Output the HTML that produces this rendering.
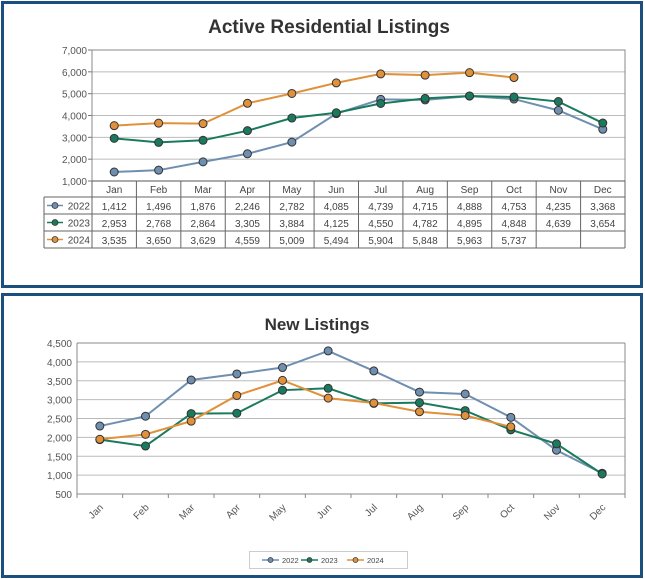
<!DOCTYPE html>
<html><head><meta charset="utf-8"><style>
html,body{margin:0;padding:0;background:#fff;}
svg{display:block;font-family:"Liberation Sans",sans-serif;}
</style></head><body>
<svg id="s" width="645" height="579" viewBox="0 0 645 579" xmlns="http://www.w3.org/2000/svg">
<rect x="0" y="0" width="645" height="579" fill="#fff"/>
<rect x="2.5" y="2.5" width="639" height="284" fill="none" stroke="#1b4f7e" stroke-width="3"/>
<rect x="2.5" y="294.5" width="639" height="282" fill="none" stroke="#1b4f7e" stroke-width="3"/>
<text x="329" y="33" text-anchor="middle" font-size="19" font-weight="bold" fill="#333">Active Residential Listings</text>
<text x="317" y="330" text-anchor="middle" font-size="17" font-weight="bold" fill="#333">New Listings</text>
<g id="g"></g>
</svg>
<script>
var g=document.getElementById('g'),NS='http://www.w3.org/2000/svg';
function el(t,a,txt){var e=document.createElementNS(NS,t);for(var k in a)e.setAttribute(k,a[k]);if(txt!=null)e.textContent=txt;g.appendChild(e);return e;}
var C=['#6f8fb0','#1a7a5e','#e0913a'];
var M=['Jan','Feb','Mar','Apr','May','Jun','Jul','Aug','Sep','Oct','Nov','Dec'];
// Top chart
var L=92,R=625,T=50,B=181;
var d1=[[1412,1496,1876,2246,2782,4085,4739,4715,4888,4753,4235,3368],[2953,2768,2864,3305,3884,4125,4550,4782,4895,4848,4639,3654],[3535,3650,3629,4559,5009,5494,5904,5848,5963,5737]];
function y1(v){return B-(v-1000)/6000*(B-T);}
var cw=(R-L)/12;
for(var i=1;i<=7;i++){var y=y1(i*1000);el('line',{x1:L,x2:R,y1:y,y2:y,stroke:'#bbb','stroke-width':1});el('line',{x1:L-4,x2:L,y1:y,y2:y,stroke:'#777'});el('text',{x:L-5,y:y+4,'text-anchor':'end','font-size':10,fill:'#555'},(i).toString()+',000');}
el('rect',{x:L,y:T,width:R-L,height:B-T,fill:'none',stroke:'#888'});
// table
var rows=[181,197,214,231,248];
el('line',{x1:L,x2:R,y1:181,y2:181,stroke:'#555'});
for(var r=1;r<5;r++)el('line',{x1:44,x2:R,y1:rows[r],y2:rows[r],stroke:'#666'});
el('line',{x1:44,x2:44,y1:197,y2:248,stroke:'#666'});
for(var c=0;c<=12;c++)el('line',{x1:L+c*cw,x2:L+c*cw,y1:181,y2:248,stroke:'#666'});
for(var c=0;c<12;c++){var cx=L+cw*(c+.5);el('text',{x:cx,y:193,'text-anchor':'middle','font-size':10,fill:'#444'},M[c]);
 for(var s=0;s<3;s++){var v=d1[s][c];if(v!=null)el('text',{x:cx,y:rows[s+1]+13,'text-anchor':'middle','font-size':10,fill:'#444'},v.toLocaleString('en-US'));}}
var yrs=['2022','2023','2024'];
for(var s=0;s<3;s++){var yy=rows[s+1]+8.5;el('line',{x1:47,x2:63,y1:yy,y2:yy,stroke:C[s],'stroke-width':1.5});el('circle',{cx:55,cy:yy,r:3,fill:C[s],stroke:'#333','stroke-width':.8});el('text',{x:90,y:yy+4,'text-anchor':'end','font-size':10,fill:'#444'},yrs[s]);}
function series(data,xf,yf,r){for(var s=0;s<3;s++){var p=data[s].map(function(v,i){return xf(i)+','+yf(v);}).join(' ');el('polyline',{points:p,fill:'none',stroke:C[s],'stroke-width':2});}
 for(var s=0;s<3;s++)data[s].forEach(function(v,i){el('circle',{cx:xf(i),cy:yf(v),r:r,fill:C[s],stroke:'#333','stroke-width':1});});}
series(d1,function(i){return L+cw*(i+.5);},y1,4);
// Bottom chart
var L2=77,R2=625,T2=343,B2=494;
function y2(v){return B2-(v-500)/4000*(B2-T2);}
var cw2=(R2-L2)/12;
for(var i=0;i<=8;i++){var v=500+i*500,y=y2(v);el('line',{x1:L2,x2:R2,y1:y,y2:y,stroke:'#bbb'});el('text',{x:L2-5,y:y+4,'text-anchor':'end','font-size':10,fill:'#555'},v.toLocaleString('en-US'));}
el('line',{x1:L2,x2:L2,y1:T2,y2:B2,stroke:'#888'});el('line',{x1:R2,x2:R2,y1:T2,y2:B2,stroke:'#888'});el('line',{x1:L2,x2:R2,y1:T2,y2:T2,stroke:'#888'});
el('line',{x1:L2,x2:R2,y1:B2,y2:B2,stroke:'#888'});
for(var c=0;c<=12;c++)el('line',{x1:L2+c*cw2,x2:L2+c*cw2,y1:B2,y2:B2+4,stroke:'#888'});
for(var c=0;c<12;c++){var cx=L2+cw2*(c+.5)+4;el('text',{x:cx,y:508,'text-anchor':'end','font-size':10,fill:'#555',transform:'rotate(-45 '+cx+' 508)'},M[c]);}
var d2=[[2300,2560,3520,3680,3850,4290,3760,3200,3150,2530,1660,1050],[1940,1770,2630,2640,3250,3300,2900,2920,2710,2200,1830,1030],[1950,2080,2430,3110,3510,3040,2910,2680,2580,2280]];
series(d2,function(i){return L2+cw2*(i+.5);},y2,4);
el('rect',{x:249.5,y:551.5,width:158,height:17,fill:'#fff',stroke:'#ccc'});
var lx=[262,301,347];
for(var s=0;s<3;s++){el('line',{x1:lx[s],x2:lx[s]+17,y1:560,y2:560,stroke:C[s],'stroke-width':1.5});el('circle',{cx:lx[s]+8.5,cy:560,r:2.5,fill:C[s],stroke:'#333','stroke-width':.7});el('text',{x:lx[s]+20,y:563,'font-size':7.5,fill:'#444'},yrs[s]);}
</script>
</body></html>
